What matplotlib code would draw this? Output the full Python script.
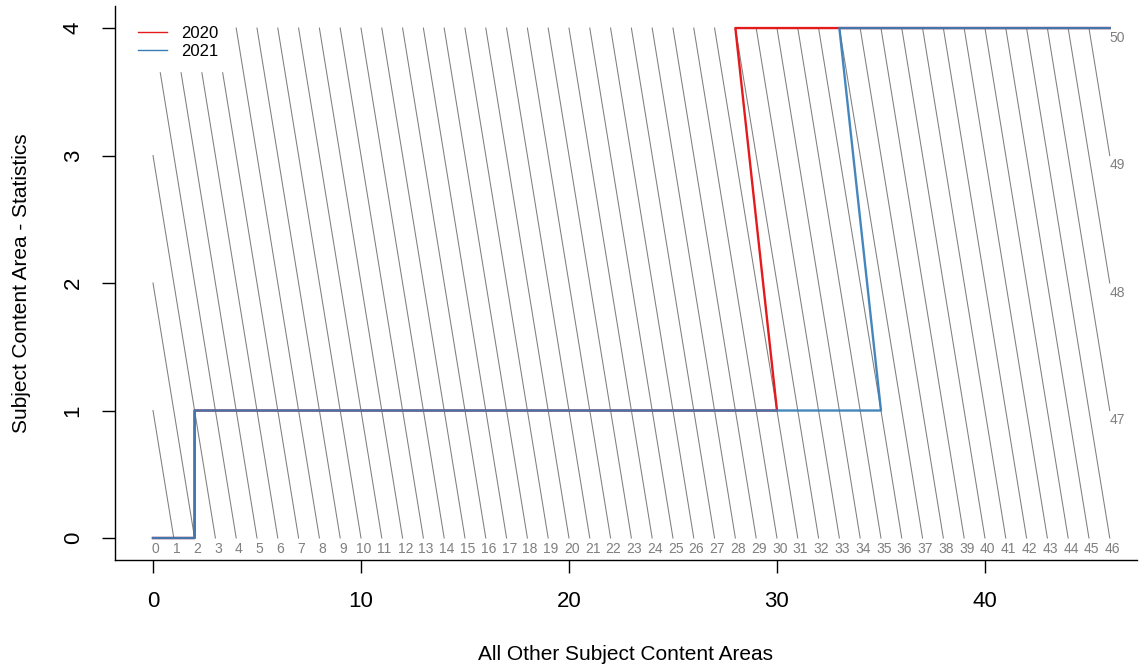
import matplotlib
matplotlib.use("Agg")
import matplotlib.pyplot as plt
from matplotlib.lines import Line2D

plt.rcParams['font.family'] = ['Liberation Sans', 'DejaVu Sans']

# ---- data ----
years = ["2020", "2021"]
x_2020 = [0, 2, 2, 30, 28, 46]
y_2020 = [0, 0, 1, 1, 4, 4]
x_2021 = [0, 2, 2, 35, 33, 46]
y_2021 = [0, 0, 1, 1, 4, 4]
series_colors = ["#E41A1C", "#377EB8"]
x_max = 46
y_max = 4
iso_totals = list(range(0, 51))
x_ticks = [0, 10, 20, 30, 40]
y_ticks = [0, 1, 2, 3, 4]

fig = plt.figure(figsize=(11.39, 6.70), dpi=100)
ax = fig.add_axes([115/1139, (670-560)/670, (1137-115)/1139, (560-6)/670])
ax.set_xlim(-1.827, 47.31)
ax.set_ylim(-0.1725, 4.173)

grey = "#7f7f7f"
# iso-total lines x + y = k
for k in iso_totals:
    y0 = max(0, k - x_max)
    y1 = min(y_max, k)
    if y1 > y0:
        ax.plot([k - y0, k - y1], [y0, y1], color=grey, lw=0.75, zorder=1)
    if k <= x_max:
        ax.annotate(str(k), (k, 0), xytext=(2, -3), textcoords='offset points',
                    ha='center', va='top', color=grey, fontsize=10)
    else:
        ax.annotate(str(k), (x_max, k - x_max), xytext=(0, -2), textcoords='offset points',
                    ha='left', va='top', color=grey, fontsize=10)

ax.plot(x_2020, y_2020, color=series_colors[0], lw=1.7, zorder=3)
ax.plot(x_2021, y_2021, color=series_colors[1], lw=1.7, alpha=0.93, zorder=4)

handles = [Line2D([], [], color=c, lw=1) for c in series_colors]
leg = ax.legend(handles, years, loc='upper left',
                bbox_to_anchor=((125-115)/1022, (560-13)/554), borderaxespad=0,
                fontsize=12, handlelength=1.75, handletextpad=0.85, labelspacing=0.2,
                borderpad=0.75, frameon=True, fancybox=False, framealpha=1,
                facecolor='white', edgecolor='white')
leg.set_zorder(10)

for s in ['top', 'right']:
    ax.spines[s].set_visible(False)
for s in ['left', 'bottom']:
    ax.spines[s].set_linewidth(1.0)

ax.set_xticks(x_ticks)
ax.set_yticks(y_ticks)
ax.tick_params(axis='both', length=9.5, width=1, labelsize=16, pad=13, direction='out')
for lab in ax.get_yticklabels():
    lab.set_rotation(90)
    lab.set_va('center')

ax.set_xlabel("All Other Subject Content Areas", fontsize=15, va='center')
ax.xaxis.set_label_coords(0.5, (560-654)/554)
ax.set_ylabel("Subject Content Area - Statistics", fontsize=15, va='center')
ax.yaxis.set_label_coords((22-115)/1022, 0.5)

fig.savefig("out.png", dpi=100)
